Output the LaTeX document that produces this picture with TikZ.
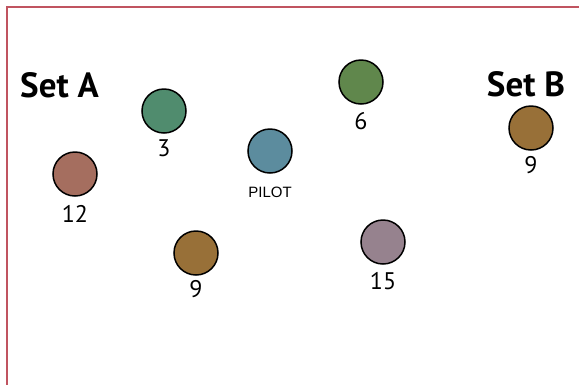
\documentclass[tikz,border=0pt]{standalone}
\usepackage{fontspec}
\setmainfont{PT Sans}
\newfontfamily\arialfont{Liberation Sans}
\usetikzlibrary{positioning}
\definecolor{frameRed}{RGB}{192,84,96}
\definecolor{tealGreen}{RGB}{80,140,110}
\definecolor{clayBrown}{RGB}{165,110,95}
\definecolor{slateBlue}{RGB}{92,140,158}
\definecolor{mossGreen}{RGB}{96,135,76}
\definecolor{ochre}{RGB}{152,112,56}
\definecolor{mauve}{RGB}{150,130,142}
\tikzset{
  dot/.style    ={circle,draw=black,line width=1.5pt,minimum size=44pt,inner sep=0pt},
  numlbl/.style ={inner sep=0pt,font=\fontsize{24}{24}\selectfont},
  pilotlbl/.style={inner sep=0pt,font=\arialfont\fontsize{15}{15}\selectfont},
  sethead/.style={inner sep=0pt,font=\fontsize{35}{35}\selectfont\bfseries},
}

\begin{document}
\begin{tikzpicture}[x=1pt,y=-1pt]
\useasboundingbox (0,0) rectangle (579,384);
\fill[white] (0,0) rectangle (579,384);
\draw[frameRed,line width=1.5pt] (7,390) -- (7,7) -- (590,7);
% the two sets
\node[sethead] (setA) at (59.5,85) {Set A};
\node[sethead] (setB) at (526,84.5) {Set B};
% pilots
\node[dot,fill=tealGreen] (c3) at (164,111) {};
\node[dot,fill=clayBrown] (c12) at (75,174) {};
\node[dot,fill=slateBlue] (pilot) at (270,151) {};
\node[dot,fill=mossGreen] (c6) at (361,82) {};
\node[dot,fill=ochre] (cB9) at (531,128) {};
\node[dot,fill=ochre] (c9) at (196,253) {};
\node[dot,fill=mauve] (c15) at (383,242) {};
\node[numlbl,below=6pt of c3] (l3) {3};
\node[numlbl,below=8pt of c12] (l12) {12};
\node[pilotlbl,below=13pt of pilot] (lpilot) {PILOT};
\node[numlbl,below=7pt of c6] (l6) {6};
\node[numlbl,below=5pt of cB9] (lB9) {9};
\node[numlbl,below=4pt of c9] (l9) {9};
\node[numlbl,below=7pt of c15] (l15) {15};
\end{tikzpicture}
\end{document}
